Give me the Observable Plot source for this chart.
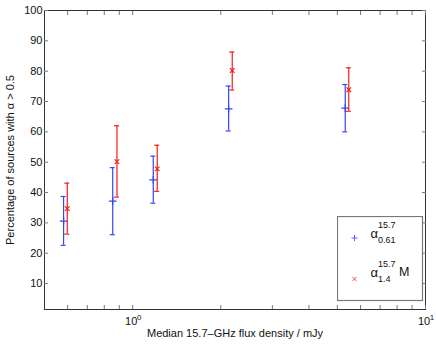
<!DOCTYPE html>
<html><head><meta charset="utf-8">
<script src="https://cdn.jsdelivr.net/npm/d3@7"></script>
<script src="https://cdn.jsdelivr.net/npm/@observablehq/plot@0.6"></script>
<style>
body{margin:0;background:#fff;}
#wrap{position:relative;width:436px;height:344px;font-family:"Liberation Sans",Arial,sans-serif;}
#legend{position:absolute;left:337px;top:216px;}
</style></head><body><div id="wrap"></div>
<script>
// Data
const blueX  = [0.581, 0.855, 1.176, 2.127, 5.32];
const blueY  = [30.6, 37.2, 44.2, 67.6, 67.8];
const blueLo = [22.6, 26.1, 36.5, 60.3, 60.0];
const blueHi = [38.7, 48.2, 52.0, 75.1, 75.6];
const redX   = [0.598, 0.884, 1.213, 2.188, 5.47];
const redY   = [34.7, 50.2, 47.8, 80.2, 73.9];
const redLo  = [26.3, 38.5, 40.4, 73.8, 66.8];
const redHi  = [43.1, 62.0, 55.6, 86.3, 81.1];
const yTicks = [10, 20, 30, 40, 50, 60, 70, 80, 90, 100];
const xMajor = [1, 10];
const xMajorBase = "10";
const xMajorExp = ["0", "1"];
const xMinor = [0.6, 0.7, 0.8, 0.9, 2, 3, 4, 5, 6, 7, 8, 9];
const xLabel = "Median 15.7\u2013GHz flux density / mJy";
const yLabel = "Percentage of sources with \u03B1 > 0.5";

const blueC = "#3545f2", redC = "#f01c1c";
const blue = blueX.map((x, i) => ({x, y: blueY[i], lo: blueLo[i], hi: blueHi[i]}));
const red = redX.map((x, i) => ({x, y: redY[i], lo: redLo[i], hi: redHi[i]}));
const allX = xMajor.concat(xMinor);
const none = () => "";

function errorMarks(data, color, symbol, r) {
  return [
    Plot.ruleX(data, {x: "x", y1: "lo", y2: "hi", stroke: color, strokeWidth: 1.2}),
    Plot.ruleY(data, {y: "lo", x1: "x", x2: "x", insetLeft: -2.5, insetRight: -2.5, stroke: color, strokeWidth: 1.2}),
    Plot.ruleY(data, {y: "hi", x1: "x", x2: "x", insetLeft: -2.5, insetRight: -2.5, stroke: color, strokeWidth: 1.2}),
    Plot.dot(data, {x: "x", y: "y", symbol, r, stroke: color, strokeWidth: 1.2})
  ];
}

const chart = Plot.plot({
  width: 436, height: 344,
  marginLeft: 44, marginRight: 11, marginTop: 10, marginBottom: 35,
  style: {fontFamily: "Liberation Sans, Arial, sans-serif", fontSize: "11px", background: "#fff", overflow: "visible"},
  x: {type: "log", domain: [0.5, 10]},
  y: {domain: [1.45, 100]},
  marks: [
    Plot.frame({stroke: "#333"}),
    Plot.axisY(yTicks, {anchor: "left", tickSize: 0, tickPadding: 2, label: null, fill: "#111"}),
    Plot.axisY(yTicks, {anchor: "left", tickSize: 4, dx: 4, tickFormat: none, label: null, stroke: "#777"}),
    Plot.axisY(yTicks, {anchor: "right", tickSize: 4, dx: -4, tickFormat: none, label: null, stroke: "#777"}),
    Plot.axisX(xMajor, {anchor: "bottom", tickSize: 0, tickPadding: 8, dx: -1.5, tickFormat: () => xMajorBase, label: null, fill: "#111"}),
    Plot.axisX(xMajor, {anchor: "bottom", tickSize: 0, tickPadding: 5, dx: 6.5, fontSize: 8, tickFormat: d => xMajorExp[xMajor.indexOf(d)], label: null, fill: "#111"}),
    Plot.axisX(allX, {anchor: "bottom", tickSize: 4, dy: -4, tickFormat: none, label: null, stroke: "#777"}),
    Plot.axisX(allX, {anchor: "top", tickSize: 4, dy: 4, tickFormat: none, label: null, stroke: "#777"}),
    Plot.text([xLabel], {frameAnchor: "bottom", dy: 24, textAnchor: "middle", lineAnchor: "middle", text: d => d, fill: "#111"}),
    Plot.text([yLabel], {frameAnchor: "left", dx: -34, rotate: -90, textAnchor: "middle", lineAnchor: "middle", text: d => d, fill: "#111"}),
    ...errorMarks(blue, blueC, "plus", 2.6),
    ...errorMarks(red, redC, "times", 2.2)
  ]
});
document.getElementById("wrap").appendChild(chart);

// Legend (inside the plot area, lower right)
const lg = d3.select("#wrap").append("svg").attr("id", "legend")
  .attr("width", 87).attr("height", 86)
  .style("font-family", "Liberation Sans, Arial, sans-serif");
lg.append("rect").attr("x", 0.5).attr("y", 0.5).attr("width", 85).attr("height", 84)
  .attr("fill", "#fff").attr("stroke", "#777").attr("stroke-width", 1.2);
lg.append("path").attr("transform", "translate(17.5,22)")
  .attr("d", "M-3,0H3M0,-3V3").attr("fill", "none").attr("stroke", "#5866f5").attr("stroke-width", 1);
lg.append("path").attr("transform", "translate(17.5,63)")
  .attr("d", "M-2,-2L2,2M-2,2L2,-2").attr("fill", "none").attr("stroke", "#f05050").attr("stroke-width", 1);
function alphaLabel(y0, sub) {
  lg.append("text").attr("x", 33.5).attr("y", y0).attr("font-size", 13).attr("fill", "#111").text("\u03B1");
  lg.append("text").attr("x", 41).attr("y", y0 - 10).attr("font-size", 9).attr("fill", "#111").text("15.7");
  lg.append("text").attr("x", 41).attr("y", y0 + 5).attr("font-size", 9).attr("fill", "#111").text(sub);
}
alphaLabel(22, "0.61");
alphaLabel(61, "1.4");
lg.append("text").attr("x", 62).attr("y", 60).attr("font-size", 12.5).attr("fill", "#111").text("M");
</script>
</body></html>
